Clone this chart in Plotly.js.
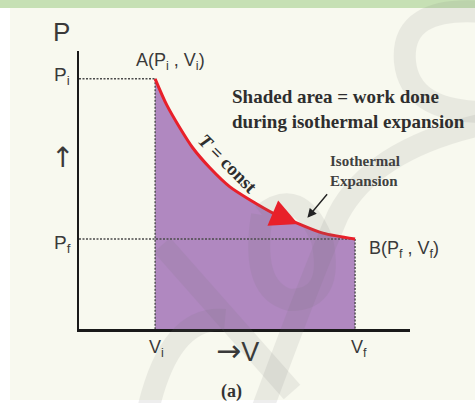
<!DOCTYPE html>
<html>
<head>
<meta charset="utf-8">
<script src="https://cdn.plot.ly/plotly-3.0.1.min.js"></script>
<style>
  html, body { margin: 0; padding: 0; background: #ffffff; }
  #chart { width: 475px; height: 403px; }
</style>
</head>
<body>
<div id="chart"></div>
<script>
// ---- data (arbitrary units) ----
const volume   = [2.30, 2.65, 3.05, 3.44, 3.96, 4.56, 5.17, 5.86, 6.59, 7.37, 8.34];
const pressure = [9.00, 8.06, 7.23, 6.51, 5.79, 5.11, 4.64, 4.17, 3.81, 3.45, 3.24];
const Vi = 2.30, Vf = 8.34, Pi = 9.00, Pf = 3.24;
const arrowV = 6.62, arrowP = 3.78;      // point on the curve where the red arrow head sits
const expV = 6.90, expP = 4.00;          // point pointed at by "Isothermal Expansion"

// ---- layout helpers (pixel -> paper) ----
const W = 475, H = 403, L = 79, R = 65, T = 51, B = 74;
const pw = W - L - R, ph = H - T - B;
const px = x => (x - L) / pw;
const py = y => (H - B - y) / ph;

const purple = '#b088c0';
const red = '#e8202a';
const dotCol = '#4a4a4a';
const sans = 'Liberation Sans, Arial, sans-serif';
const serif = 'Liberation Serif, Times New Roman, serif';
const txt = '#3a3a3a';

const traces = [
  { x: volume, y: pressure, mode: 'lines', fill: 'tozeroy', fillcolor: purple,
    line: { width: 0, shape: 'spline', smoothing: 0.8 }, hoverinfo: 'skip' },
  { x: [0, Vi, null, Vi, Vi, null, 0, Vf, null, Vf, Vf],
    y: [Pi, Pi, null, Pi, 0, null, Pf, Pf, null, Pf, 0],
    mode: 'lines', line: { color: dotCol, width: 1.4, dash: '2px,1.5px' }, hoverinfo: 'skip' },
  { x: volume, y: pressure, mode: 'lines',
    line: { color: red, width: 3, shape: 'spline', smoothing: 0.8 }, hoverinfo: 'skip' }
];

function lab(text, x, y, opts) {
  return Object.assign({
    text: text, xref: 'paper', yref: 'paper', x: px(x), y: py(y),
    showarrow: false, xanchor: 'center', yanchor: 'middle',
    font: { family: sans, size: 18, color: txt }
  }, opts || {});
}

const annotations = [
  lab('P', 61, 32, { font: { family: sans, size: 26, color: txt } }),
  lab('P<sub>i</sub>', 52, 76, { xanchor: 'left', font: { family: sans, size: 19, color: txt } }),
  lab('↑', 62, 157, { font: { family: 'DejaVu Sans', size: 28, color: txt } }),
  lab('A(P<sub>i</sub> , V<sub>i</sub>)', 134, 61, { xanchor: 'left' }),
  lab('P<sub>f</sub>', 52, 244, { xanchor: 'left', font: { family: sans, size: 19, color: txt } }),
  lab('B(P<sub>f</sub> , V<sub>f</sub>)', 367, 249, { xanchor: 'left' }),
  lab('V<sub>i</sub>', 147, 348, { xanchor: 'left' }),
  lab('V<sub>f</sub>', 349, 348, { xanchor: 'left' }),
  lab('<span style="font-family:DejaVu Sans;font-size:30px">→</span>V', 237, 350,
      { font: { family: sans, size: 27, color: txt } }),
  lab('<b>(a)</b>', 231, 391, { font: { family: serif, size: 18, color: '#333' } }),
  lab('<b>Shaded area = work done<br>during isothermal expansion</b>', 230, 109,
      { xanchor: 'left', align: 'left', font: { family: serif, size: 19, color: '#2e2e2e' } }),
  lab('<b>Isothermal<br>Expansion</b>', 328, 171,
      { xanchor: 'left', align: 'left', font: { family: serif, size: 15, color: '#404040' } }),
  lab('<b><i>T</i> = const</b>', 228, 163,
      { textangle: 45, font: { family: serif, size: 19, color: '#2e2e2e' } }),
  { x: arrowV, y: arrowP, xref: 'x', yref: 'y', ax: -26, ay: -11, text: '',
    showarrow: true, arrowhead: 2, arrowsize: 2.2, arrowwidth: 2.5, arrowcolor: red },
  { x: expV, y: expP, xref: 'x', yref: 'y', ax: 21, ay: -25, text: '',
    showarrow: true, arrowhead: 2, arrowsize: 1.3, arrowwidth: 1.4, arrowcolor: '#222' }
];

// background decoration
const shapes = [
  { type: 'rect', xref: 'paper', yref: 'paper', x0: px(0), x1: px(W), y0: py(8), y1: py(0),
    fillcolor: '#c6e0b4', line: { width: 0 }, layer: 'below' },
  { type: 'rect', xref: 'paper', yref: 'paper', x0: px(0), x1: px(10), y0: py(H), y1: py(8),
    fillcolor: '#ffffff', line: { width: 0 }, layer: 'below' },
  { type: 'rect', xref: 'paper', yref: 'paper', x0: px(0), x1: px(W), y0: py(H), y1: py(400),
    fillcolor: '#ffffff', line: { width: 0 }, layer: 'below' }
];

// faint watermark strokes (decoration only), given in pixel space and converted to paper
function wm(cmds) {
  const d = cmds.map(c => c[0] + ' ' + c.slice(1).reduce((s, v, i, a) =>
    (i % 2 === 0 ? s.concat([px(v) + ',' + py(a[i + 1])]) : s), []).join(' ')).join(' ');
  return { type: 'path', xref: 'paper', yref: 'paper', path: d, layer: 'above',
           opacity: 0.11, line: { color: '#707070', width: 22 } };
}
shapes.push(
  wm([['M', 485, 12], ['Q', 400, 5, 405, 62], ['Q', 410, 110, 480, 112]]),
  wm([['M', 480, 125], ['Q', 372, 150, 338, 215], ['Q', 310, 280, 262, 410]]),
  wm([['M', 262, 215], ['Q', 300, 185, 322, 240], ['Q', 335, 300, 290, 300], ['Q', 250, 290, 262, 215]]),
  wm([['M', 162, 245], ['L', 292, 392]]),
  wm([['M', 148, 410], ['Q', 170, 315, 225, 320]])
);

const axisBase = {
  range: [0, 10], showline: true, linecolor: '#1a1a1a', linewidth: 2.5,
  showgrid: false, zeroline: false, showticklabels: false, ticks: '', fixedrange: true
};

const layout = {
  width: W, height: H,
  margin: { l: L, r: R, t: T, b: B, pad: 0 },
  paper_bgcolor: '#f8f9ef', plot_bgcolor: 'rgba(0,0,0,0)',
  showlegend: false, hovermode: false,
  xaxis: Object.assign({}, axisBase),
  yaxis: Object.assign({}, axisBase),
  annotations: annotations,
  shapes: shapes
};

Plotly.newPlot('chart', traces, layout, { staticPlot: true, displayModeBar: false });
</script>
</body>
</html>
